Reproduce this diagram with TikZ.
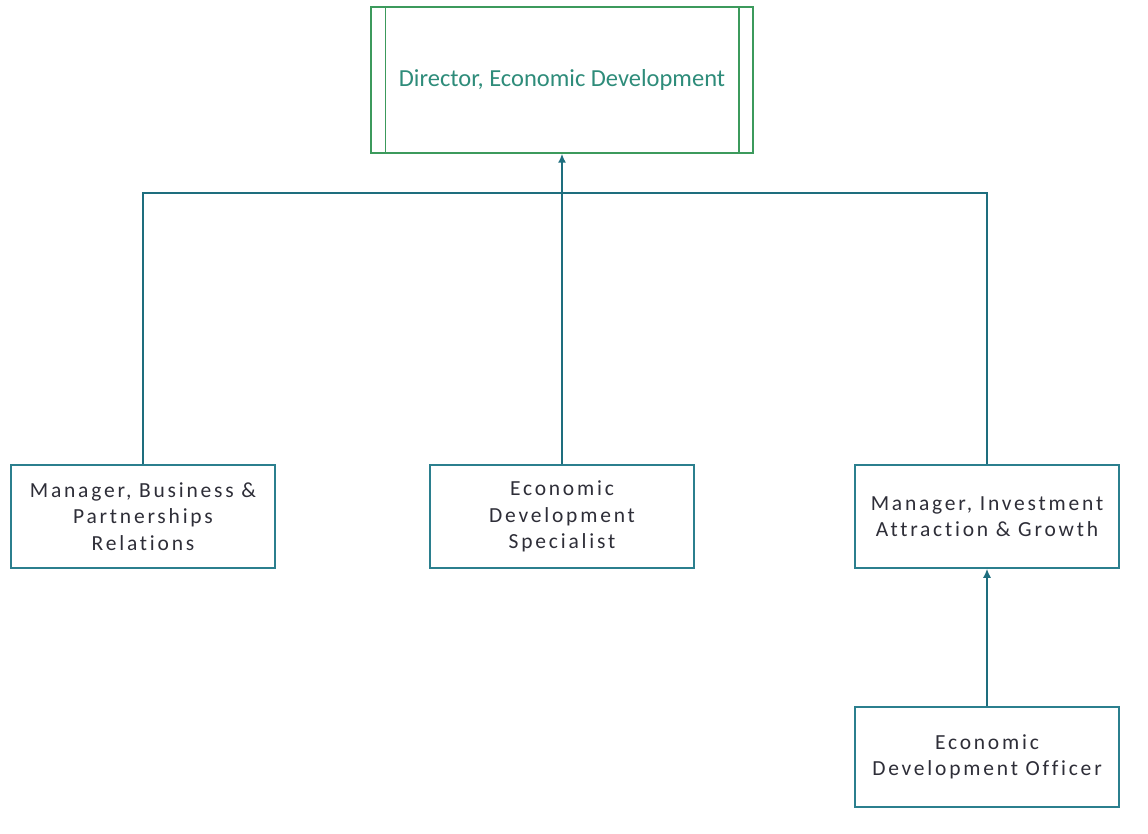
\documentclass[tikz,border=0pt]{standalone}
\usepackage{fontspec}
\setmainfont{Carlito}[Ligatures=NoCommon]
\usetikzlibrary{arrows.meta}
\definecolor{linec}{HTML}{1E6E7E}
\definecolor{boxc}{HTML}{2B7F8E}
\definecolor{dirc}{HTML}{3C9A5C}
\definecolor{dirtext}{HTML}{2E8C7A}
\definecolor{txtc}{HTML}{2E2E38}
\begin{document}
\begin{tikzpicture}[x=1pt,y=-1pt,
  posbox/.style={draw=boxc,line width=1.5pt,minimum width=264pt,minimum height=103pt,
    align=center,text=txtc,inner sep=0pt,
    font=\fontsize{21.5}{26.5}\selectfont\addfontfeature{LetterSpace=13}},
  dirbox/.style={draw=dirc,line width=1.5pt,minimum width=382pt,minimum height=146pt,
    align=center,text=dirtext,inner sep=0pt,font=\fontsize{24.5}{28}\selectfont},
  conn/.style={draw=linec,line width=1.6pt},
  arr/.style={conn,-{Latex[length=9pt,width=8pt]}}]
\useasboundingbox (0,0) rectangle (1148,834);
\fill[white] (0,0) rectangle (1148,834);
\node[dirbox] (dir) at (562,80) {Director, Economic Development};
\draw[dirc,line width=1.5pt] ([xshift=15pt]dir.north west) -- ([xshift=15pt]dir.south west);
\draw[dirc,line width=1.5pt] ([xshift=-15pt]dir.north east) -- ([xshift=-15pt]dir.south east);
\node[posbox] (mbp) at (143,516.5) {Manager, Business \&\\Partnerships\\Relations};
\node[posbox] (eds) at (562,516.5) {Economic\\Development\\Specialist};
\node[posbox] (mia) at (987,516.5) {Manager, Investment\\Attraction \& Growth};
\node[posbox,minimum height=100pt] (edo) at (987,757) {Economic\\Development Officer};
\coordinate (bus) at (562,193);
\draw[conn] (mbp.north) |- (bus) -| (mia.north);
\draw[arr] (eds.north) -- (dir.south);
\draw[arr] (edo.north) -- (mia.south);
\end{tikzpicture}
\end{document}
